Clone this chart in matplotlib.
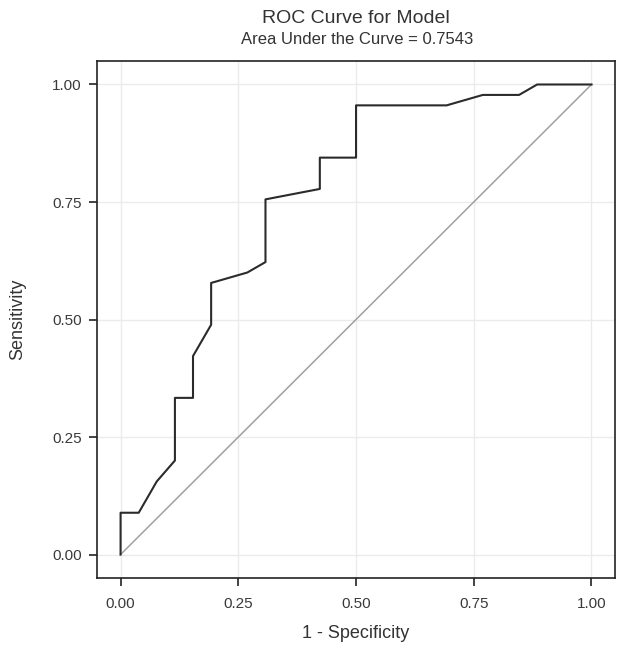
import matplotlib
matplotlib.use("Agg")
import matplotlib.pyplot as plt

plt.rcParams['font.family'] = ['Liberation Sans', 'DejaVu Sans']

fpr = [0.0, 0.0, 0.0385, 0.0769, 0.1154, 0.1154, 0.1538, 0.1538, 0.1923, 0.1923,
       0.2692, 0.3077, 0.3077, 0.4231, 0.4231, 0.5, 0.5, 0.6923, 0.7692, 0.8462,
       0.8846, 1.0]
tpr = [0.0, 0.0889, 0.0889, 0.1556, 0.2, 0.3333, 0.3333, 0.4222, 0.4889, 0.5778,
       0.6, 0.6222, 0.7556, 0.7778, 0.8444, 0.8444, 0.9556, 0.9556, 0.9778, 0.9778,
       1.0, 1.0]
ticks = [0.0, 0.25, 0.5, 0.75, 1.0]
tick_labels = ["0.00", "0.25", "0.50", "0.75", "1.00"]
title = "ROC Curve for Model"
subtitle = "Area Under the Curve = 0.7543"

fig = plt.figure(figsize=(6.26, 6.53), dpi=100)
ax = fig.add_axes([0.155, 0.1148, 0.8275, 0.7918])

ax.plot([0, 1], [0, 1], color="#a0a0a0", lw=1.1, zorder=2)
ax.plot(fpr, tpr, color="#2b2b2b", lw=1.5, zorder=3)

ax.set_xlim(-0.05, 1.05)
ax.set_ylim(-0.05, 1.05)
ax.set_xticks(ticks)
ax.set_xticklabels(tick_labels)
ax.set_yticks(ticks)
ax.set_yticklabels(tick_labels)
ax.grid(True, color="#ebebeb", lw=1.0, zorder=0)
ax.set_axisbelow(True)
for s in ax.spines.values():
    s.set_color("#222222")
    s.set_linewidth(1.2)
ax.tick_params(direction="out", length=6, width=1.2, colors="#222222",
               labelsize=11, labelcolor="#3a3a3a")
ax.tick_params(axis="x", pad=8)
ax.tick_params(axis="y", pad=5)

ax.set_xlabel("1 - Specificity", fontsize=13, color="#333333")
ax.set_ylabel("Sensitivity", fontsize=13, color="#333333")
ax.xaxis.set_label_coords(0.5, -0.091)
ax.yaxis.set_label_coords(-0.137, 0.5)

fig.text(0.569, 0.972, title, ha="center", va="center", fontsize=14, color="#333333")
fig.text(0.570, 0.939, subtitle, ha="center", va="center", fontsize=12, color="#333333")

fig.savefig("out.png", dpi=100)
